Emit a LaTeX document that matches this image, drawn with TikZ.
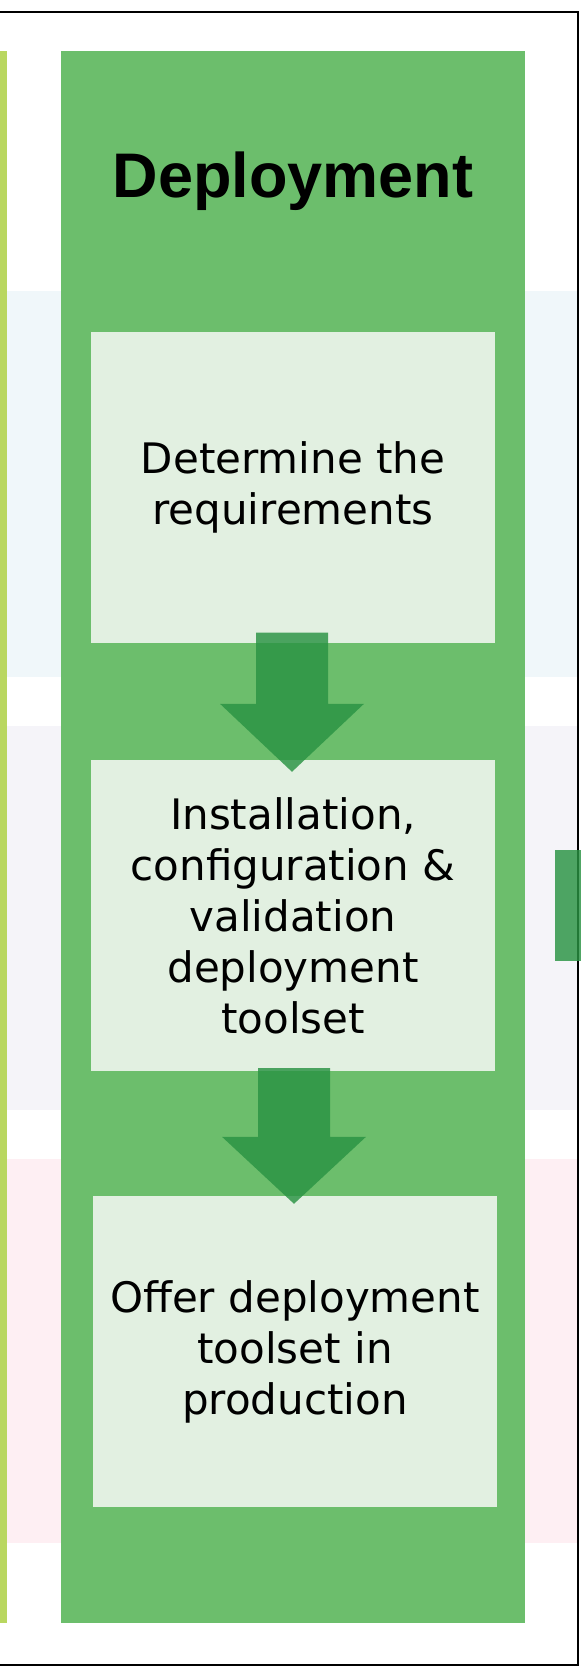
\documentclass[tikz,border=0pt]{standalone}
\usepackage{fontspec}
\newfontfamily\verdanafont{DejaVu Sans}
\newfontfamily\titlefont{Liberation Sans}
\usetikzlibrary{calc}

\definecolor{lanegreen}{HTML}{6CBE6C}
\definecolor{boxgreen}{HTML}{E2F0E1}
\definecolor{arrowgreen}{HTML}{299343}
\definecolor{stripyellow}{HTML}{B9D760}
\definecolor{bandblue}{HTML}{F0F7FA}
\definecolor{bandlilac}{HTML}{F5F4F9}
\definecolor{bandpink}{HTML}{FEEFF3}

\begin{document}
\begin{tikzpicture}[
    x=1pt, y=-1pt,
    stepbox/.style={fill=boxgreen, minimum width=404pt, minimum height=311pt,
      inner sep=0pt, align=center, font=\verdanafont\fontsize{42}{51}\selectfont},
    flowarrow/.style={fill=arrowgreen, fill opacity=0.82}
  ]
  \clip (0,0) rectangle (581,1671);

  % Row bands
  \fill[bandblue] (7,291) rectangle (578,677);
  \fill[bandlilac] (7,726) rectangle (578,1110);
  \fill[bandpink] (7,1159) rectangle (578,1543);

  % Lanes
  \fill[stripyellow] (-5,51) rectangle (7,1623);
  \fill[lanegreen] (61,51) rectangle (525,1623);

  % Lane title
  \node[anchor=base, font=\titlefont\bfseries\fontsize{63}{70}\selectfont] (title) at (293,197) {Deployment};

  % Steps
  \node[stepbox] (req) at (293,487) {Determine the\\requirements};
  \node[stepbox] (inst) at (293,915.5) {Installation,\\configuration \&\\validation\\deployment\\toolset};
  \node[stepbox] (offer) at (295,1351.5) {Offer deployment\\toolset in\\production};

  % Block arrows
  \coordinate (a1s) at ($(req.south)+(-1,-10)$);
  \coordinate (a1t) at ($(inst.north)+(-1,12)$);
  \fill[flowarrow] ($(a1s)+(-36,0)$) -- ($(a1s)+(36,0)$) -- ($(a1t)+(36,-68)$)
    -- ($(a1t)+(72,-68)$) -- (a1t) -- ($(a1t)+(-72,-68)$) -- ($(a1t)+(-36,-68)$) -- cycle;
  \coordinate (a2s) at ($(inst.south)+(1,-3)$);
  \coordinate (a2t) at ($(offer.north)+(-1,8)$);
  \fill[flowarrow] ($(a2s)+(-36,0)$) -- ($(a2s)+(36,0)$) -- ($(a2t)+(36,-67)$)
    -- ($(a2t)+(72,-67)$) -- (a2t) -- ($(a2t)+(-72,-67)$) -- ($(a2t)+(-36,-67)$) -- cycle;

  % Frame
  \draw[line width=2.5pt] (-10,12) -- (578,12) -- (578,1665) -- (-10,1665);

  % Outgoing arrow (cut off)
  \fill[flowarrow] (555,850) rectangle (590,961);
\end{tikzpicture}
\end{document}
